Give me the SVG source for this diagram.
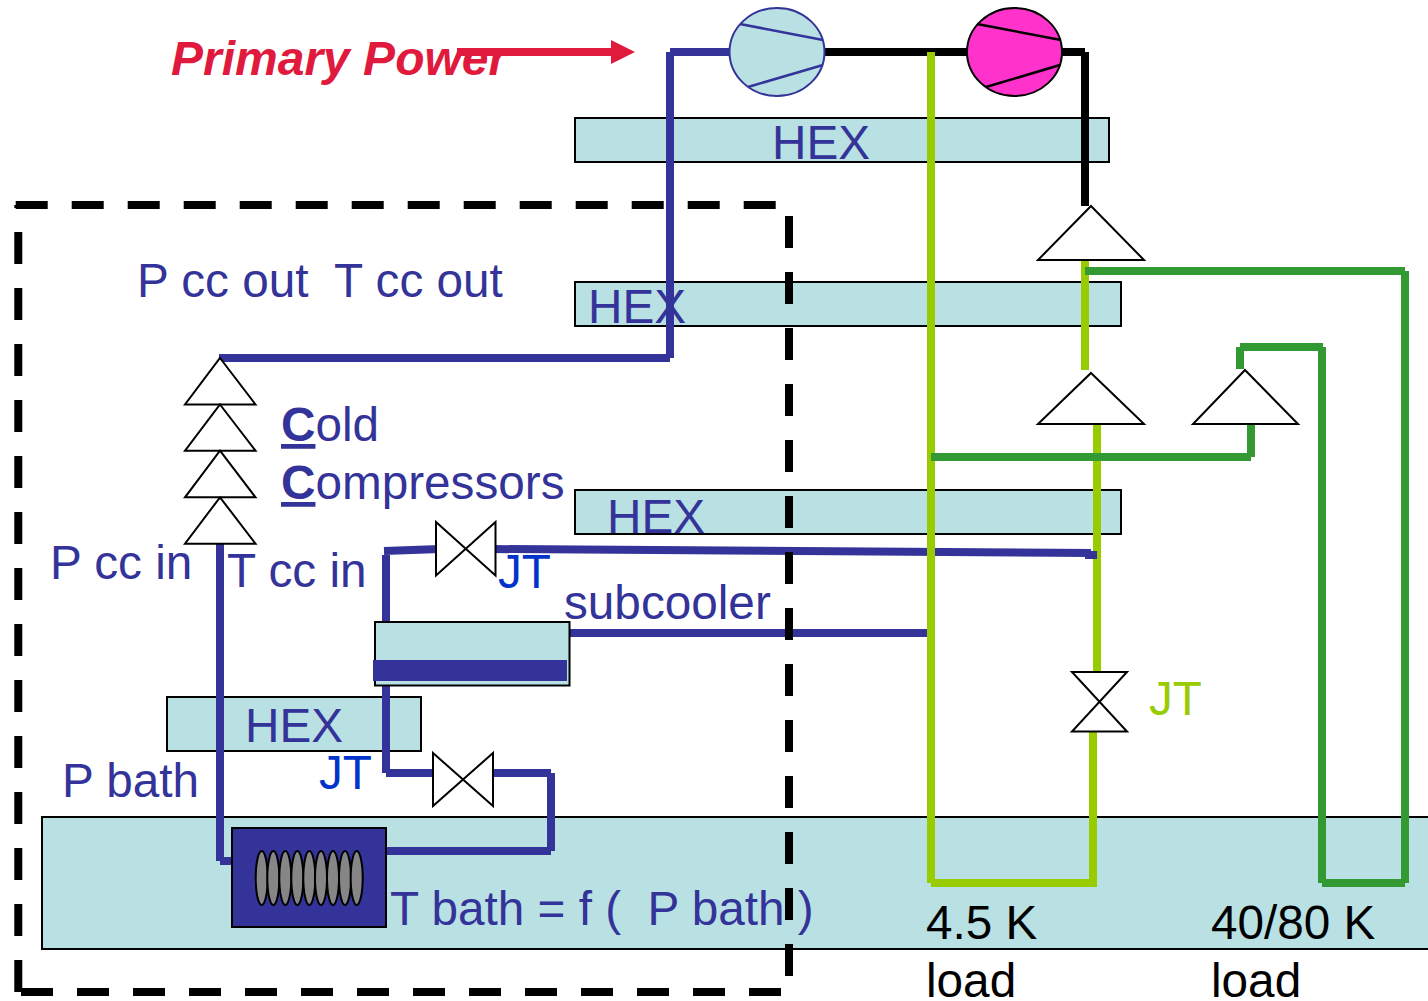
<svg xmlns="http://www.w3.org/2000/svg" width="1428" height="1001" viewBox="0 0 1428 1001">
<style>
text{font-family:"Liberation Sans",Arial,sans-serif;font-size:47.700px;fill:#333399;white-space:pre}
.box{fill:#b9e0e3;stroke:#000;stroke-width:2}
.tri{fill:#fff;stroke:#000;stroke-width:2;stroke-linejoin:miter}
.p{fill:none;stroke-width:8;stroke-linecap:butt}
.b{stroke:#333399}.k{stroke:#000}.l{stroke:#99cc00}.g{stroke:#339933}
.jtb{fill:#0033cc}.jtl{fill:#99cc00}.blk{fill:#000}
.coil{fill:#868686;stroke:#000;stroke-width:2}
.bold{font-weight:bold;text-decoration:underline}
.dash{fill:none;stroke:#000;stroke-width:8;stroke-dasharray:32 24}
</style>
<rect width="1428" height="1001" fill="#fff"/>
<g id="bath"><rect class="box" x="42" y="817" width="1400" height="132"/></g>
<g id="hex1"><rect class="box" x="575" y="118" width="534" height="44"/><text x="772" y="159">HEX</text></g>
<g id="hex2"><rect class="box" x="575" y="282" width="546" height="44"/></g>
<g id="hex3"><rect class="box" x="575" y="490" width="546" height="44"/><text x="607" y="533">HEX</text></g>
<g id="hex4"><rect class="box" x="167" y="697" width="254" height="54"/><text x="245" y="742">HEX</text></g>
<g id="connectors">
<path class="p b" d="M219 358H670M670 358V52M670 52H735"/>
<path class="p k" d="M820 52H1085M1085 52V206"/>
<path class="p b" d="M220 540V861M220 861H235"/>
<path class="p b" d="M384 551L440 549M490 549L1091 553M386 555V773M386 773H440M490 773H551M551 773V851M551 851H385"/>
<path class="p b" d="M568 633H927"/>
<path class="p l" d="M931 52V883M931 883H1097M1093 883V732"/>
<path class="p l" d="M1085 260V370"/>
<path class="p l" d="M1097 424V672"/>
<path class="p b" d="M1085 555H1097"/>
<path class="p g" d="M1085 271H1405M1405 271V883M1405 883H1322M1322 883V347M1323 347H1240M1240 347V369"/>
<path class="p g" d="M931 457H1251M1251 457V424"/>
</g>
<g id="hex2-label"><text x="588" y="323">HEX</text></g>
<g id="compressor1"><ellipse cx="777" cy="52" rx="47.500" ry="44" fill="#b9e0e3" stroke="#333399" stroke-width="2"/><path d="M740 24L823 40M748 87L823 65" stroke="#333399" stroke-width="2.500" fill="none"/></g>
<g id="compressor2"><ellipse cx="1014.500" cy="52" rx="47.500" ry="44" fill="#ff33cc" stroke="#000" stroke-width="2"/><path d="M977 24L1061 40M986 87L1060 65" stroke="#000" stroke-width="2.500" fill="none"/></g>
<g id="primary-power"><text x="171" y="75" style="font-weight:bold;font-style:italic;fill:#e01a3c;font-size:48px">Primary Power</text><path d="M457 48H611V40L635 52L611 64V56H457Z" fill="#e01a3c"/></g>
<g id="cold-compressors">
<polygon class="tri" points="220,358 255.500,404.500 185,404.500"/>
<polygon class="tri" points="220,404.500 255.500,450.700 185,450.700"/>
<polygon class="tri" points="220,450.700 255.500,497.300 185,497.300"/>
<polygon class="tri" points="220,497.300 255.500,543.700 185,543.700"/>
<text x="281" y="441"><tspan class="bold">C</tspan>old</text>
<text x="281" y="499"><tspan class="bold">C</tspan>ompressors</text>
</g>
<g id="comp-warm1"><polygon class="tri" points="1091,206 1144,260 1038,260"/></g>
<g id="comp-warm2"><polygon class="tri" points="1091,373 1144,424 1038,424"/></g>
<g id="comp-warm3"><polygon class="tri" points="1245,370 1298,424 1193,424"/></g>
<g id="jt1"><path class="tri" d="M436 522L495.500 575.500V522L436 575.500Z"/><text class="jtb" x="498" y="588">JT</text></g>
<g id="jt2"><path class="tri" d="M433 753L493 806V753L433 806Z"/><text class="jtb" x="319" y="789">JT</text></g>
<g id="jt3"><path class="tri" d="M1072 672H1127L1072 731.500H1127Z"/><text class="jtl" x="1149" y="715">JT</text></g>
<g id="subcooler"><rect class="box" x="375" y="622" width="194.500" height="63.500"/><rect x="373" y="660" width="194" height="21" fill="#333399"/><text x="564" y="619">subcooler</text></g>
<g id="bath-coil"><rect x="232" y="828" width="154" height="99" fill="#333399" stroke="#000" stroke-width="2"/>
<ellipse class="coil" cx="261.700" cy="878" rx="6" ry="27"/><ellipse class="coil" cx="273.300" cy="878" rx="6" ry="27"/><ellipse class="coil" cx="285.300" cy="878" rx="6" ry="27"/><ellipse class="coil" cx="297.300" cy="878" rx="6" ry="27"/><ellipse class="coil" cx="309.300" cy="878" rx="6" ry="27"/><ellipse class="coil" cx="321" cy="878" rx="6" ry="27"/><ellipse class="coil" cx="333" cy="878" rx="6" ry="27"/><ellipse class="coil" cx="345" cy="878" rx="6" ry="27"/><ellipse class="coil" cx="356.700" cy="878" rx="6" ry="27"/>
</g>
<g id="labels">
<text x="137" y="297">P cc out  T cc out</text>
<text x="50" y="579">P cc in</text>
<text x="227" y="587">T cc in</text>
<text x="62" y="797">P bath</text>
<text x="390" y="925">T bath = f (  P bath )</text>
<text class="blk" x="926" y="939">4.5 K</text>
<text class="blk" x="926" y="997">load</text>
<text class="blk" x="1211" y="939">40/80 K</text>
<text class="blk" x="1211" y="997">load</text>
</g>
<g id="boundary">
<path class="dash" d="M15.700 205H776"/>
<path class="dash" d="M18.300 205V992" stroke-dashoffset="29"/>
<path class="dash" d="M21 992H781"/>
<path class="dash" d="M789 216V976"/>
</g>
</svg>
